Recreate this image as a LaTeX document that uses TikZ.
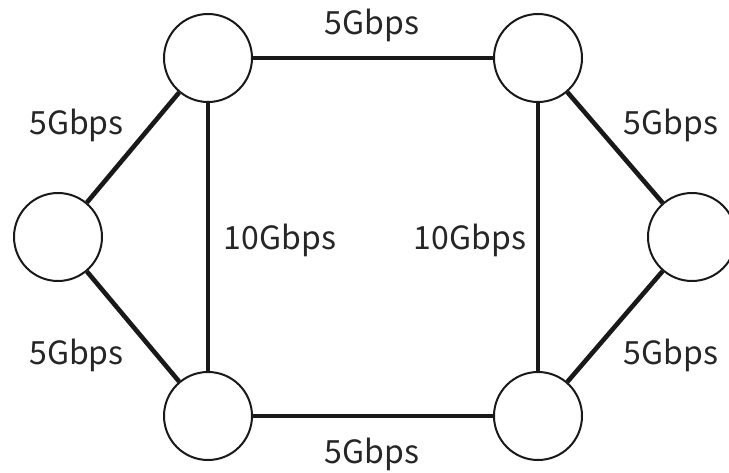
\documentclass[tikz,border=0pt]{standalone}
\usepackage{fontspec}
\setmainfont{Noto Sans CJK JP}
\begin{document}
\begin{tikzpicture}[x=1pt,y=1pt,
  host/.style={circle,draw=black!90,line width=2pt,fill=white,minimum size=88pt,inner sep=0pt},
  link/.style={line width=4.6pt,draw=black!90},
  rate/.style={anchor=base,text=black!85,font=\fontsize{32}{36}\selectfont,inner sep=0pt}]
\useasboundingbox (0,0) rectangle (729,472);
% switches
\node[host] (l)  at (58,235)  {};
\node[host] (tl) at (208,414) {};
\node[host] (bl) at (208,56)  {};
\node[host] (tr) at (538,414) {};
\node[host] (br) at (538,56)  {};
\node[host] (r)  at (692,235) {};
% links
\draw[link] (l) -- (tl);
\draw[link] (l) -- (bl);
\draw[link] (tl) -- (bl);
\draw[link] (tl) -- (tr);
\draw[link] (bl) -- (br);
\draw[link] (tr) -- (br);
\draw[link] (tr) -- (r);
\draw[link] (br) -- (r);
% bandwidth labels
\node[rate] (ltop)  at (76.5,337) {5Gbps};
\node[rate] (lbot)  at (76.5,107) {5Gbps};
\node[rate] (top)   at (372,437)  {5Gbps};
\node[rate] (bot)   at (372,9)    {5Gbps};
\node[rate] (midl)  at (280,222)  {10Gbps};
\node[rate] (midr)  at (470,222)  {10Gbps};
\node[rate] (rtop)  at (671,337)  {5Gbps};
\node[rate] (rbot)  at (671,107)  {5Gbps};
\end{tikzpicture}
\end{document}
